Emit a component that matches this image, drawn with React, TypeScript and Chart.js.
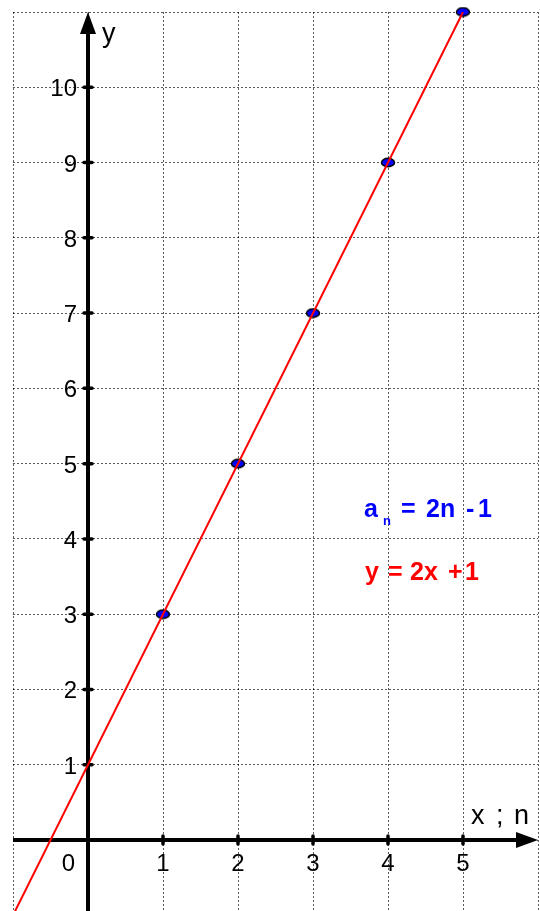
import React, { useEffect, useRef } from "react";
import { Chart, registerables } from "chart.js";

Chart.register(...registerables);

// sequence points a_n
const nValues = [1, 2, 3, 4, 5];
const aValues = [3, 5, 7, 9, 11];
// line y = 2x + 1 end points
const lineXs = [-1, 5];
const lineYs = [-1, 11];
// axis tick labels
const xTickLabels = [1, 2, 3, 4, 5];
const yTickLabels = [1, 2, 3, 4, 5, 6, 7, 8, 9, 10];

const X_MIN = -1;
const X_MAX = 6;
const Y_MIN = -0.943;
const Y_MAX = 11;

const FONT = "'Liberation Sans', Arial, sans-serif";

function makeEllipse(): HTMLCanvasElement {
  const c = document.createElement("canvas");
  c.width = 16;
  c.height = 11;
  const g = c.getContext("2d")!;
  g.beginPath();
  g.ellipse(8, 5.5, 6.5, 4.2, 0, 0, Math.PI * 2);
  g.fillStyle = "#0000ff";
  g.fill();
  g.lineWidth = 1.5;
  g.strokeStyle = "#000";
  g.stroke();
  return c;
}

const axesPlugin = {
  id: "mathAxes",
  beforeDatasetsDraw(chart: any) {
    const { ctx, scales } = chart;
    const x = scales.x;
    const y = scales.y;
    const x0 = x.getPixelForValue(0);
    const y0 = y.getPixelForValue(0);
    const yTop = y.getPixelForValue(Y_MAX);
    const xLeft = x.getPixelForValue(X_MIN);
    const xRight = x.getPixelForValue(X_MAX);
    ctx.save();
    ctx.strokeStyle = "#000";
    ctx.fillStyle = "#000";
    ctx.lineWidth = 4;
    ctx.lineCap = "butt";
    // y axis
    ctx.beginPath();
    ctx.moveTo(x0, chart.height);
    ctx.lineTo(x0, yTop + 18);
    ctx.stroke();
    ctx.beginPath();
    ctx.moveTo(x0, yTop);
    ctx.lineTo(x0 - 8, yTop + 22);
    ctx.lineTo(x0 + 8, yTop + 22);
    ctx.closePath();
    ctx.fill();
    // x axis
    ctx.beginPath();
    ctx.moveTo(xLeft, y0);
    ctx.lineTo(xRight - 18, y0);
    ctx.stroke();
    ctx.beginPath();
    ctx.moveTo(xRight, y0);
    ctx.lineTo(xRight - 22, y0 - 8);
    ctx.lineTo(xRight - 22, y0 + 8);
    ctx.closePath();
    ctx.fill();
    // tick marks
    ctx.lineWidth = 3.5;
    ctx.lineCap = "round";
    for (const v of yTickLabels) {
      const py = y.getPixelForValue(v);
      ctx.beginPath();
      ctx.moveTo(x0 - 4, py);
      ctx.lineTo(x0 + 4, py);
      ctx.stroke();
    }
    for (const v of xTickLabels) {
      const px = x.getPixelForValue(v);
      ctx.beginPath();
      ctx.moveTo(px, y0 - 4);
      ctx.lineTo(px, y0 + 4);
      ctx.stroke();
    }
    // tick labels
    ctx.font = `24px ${FONT}`;
    ctx.textBaseline = "alphabetic";
    ctx.textAlign = "right";
    for (const v of yTickLabels) {
      const py = y.getPixelForValue(v);
      ctx.fillText(String(v), x0 - 11, py + 9);
    }
    ctx.textAlign = "center";
    for (const v of xTickLabels) {
      const px = x.getPixelForValue(v);
      ctx.fillText(String(v), px, y0 + 31);
    }
    ctx.fillText("0", x0 - 19.5, y0 + 31);
    // axis titles
    ctx.font = `27px ${FONT}`;
    ctx.textAlign = "left";
    ctx.fillText("y", x0 + 14, yTop + 30);
    ctx.fillText("x", xRight - 67, y0 - 16);
    ctx.fillText(";", xRight - 42, y0 - 16);
    ctx.fillText("n", xRight - 24, y0 - 16);
    ctx.restore();
  },
  afterDraw(chart: any) {
    const { ctx } = chart;
    ctx.save();
    ctx.textBaseline = "alphabetic";
    ctx.textAlign = "left";
    // blue formula
    ctx.fillStyle = "#0000ff";
    ctx.font = `bold 25px ${FONT}`;
    ctx.fillText("a", 364, 517);
    ctx.font = `bold 13px ${FONT}`;
    ctx.fillText("n", 383, 525);
    ctx.font = `bold 25px ${FONT}`;
    ctx.fillText("=", 401, 517);
    ctx.fillText("2n", 426, 517);
    ctx.fillText("-", 466, 517);
    ctx.fillText("1", 478, 517);
    // red formula
    ctx.fillStyle = "#ff0000";
    ctx.fillText("y", 365, 580);
    ctx.fillText("=", 388, 580);
    ctx.fillText("2x", 410, 580);
    ctx.fillText("+", 448, 580);
    ctx.fillText("1", 465, 580);
    ctx.restore();
  },
};

export default function App() {
  const ref = useRef<HTMLCanvasElement | null>(null);
  useEffect(() => {
    if (!ref.current) return;
    const ellipse = makeEllipse();
    const chart = new Chart(ref.current, {
      type: "scatter",
      data: {
        datasets: [
          {
            label: "y = 2x + 1",
            data: lineXs.map((v, i) => ({ x: v, y: lineYs[i] })),
            showLine: true,
            borderColor: "#ff0000",
            borderWidth: 2,
            pointRadius: 0,
            pointHoverRadius: 0,
          },
          {
            label: "a_n",
            data: nValues.map((v, i) => ({ x: v, y: aValues[i] })),
            showLine: false,
            pointStyle: ellipse as any,
            pointRadius: 6,
            backgroundColor: "#0000ff",
            borderColor: "#000",
            clip: false as any,
          },
        ],
      },
      plugins: [axesPlugin],
      options: {
        animation: false,
        responsive: false,
        devicePixelRatio: 1,
        events: [],
        layout: { autoPadding: false, padding: { left: 13, right: 2, top: 12, bottom: 0 } },
        plugins: {
          legend: { display: false },
          tooltip: { enabled: false },
          title: { display: false },
        },
        scales: {
          x: {
            type: "linear",
            min: X_MIN,
            max: X_MAX,
            ticks: { stepSize: 1, display: false, includeBounds: false },
            grid: { color: "rgba(0,0,0,0.65)", lineWidth: 1, drawTicks: false },
            border: { display: false, dash: [2, 2] },
            afterFit: (s: any) => {
              s.height = 0;
            },
          },
          y: {
            type: "linear",
            min: Y_MIN,
            max: Y_MAX,
            ticks: { stepSize: 1, display: false, includeBounds: false },
            grid: { color: "rgba(0,0,0,0.65)", lineWidth: 1, drawTicks: false },
            border: { display: false, dash: [2, 2] },
            afterFit: (s: any) => {
              s.width = 0;
            },
          },
        },
      },
    });
    return () => chart.destroy();
  }, []);
  return (
    <div style={{ position: "fixed", left: 0, top: 0, width: 540, height: 911, background: "#fff" }}>
      <canvas ref={ref} width={540} height={911} style={{ display: "block" }} />
    </div>
  );
}
